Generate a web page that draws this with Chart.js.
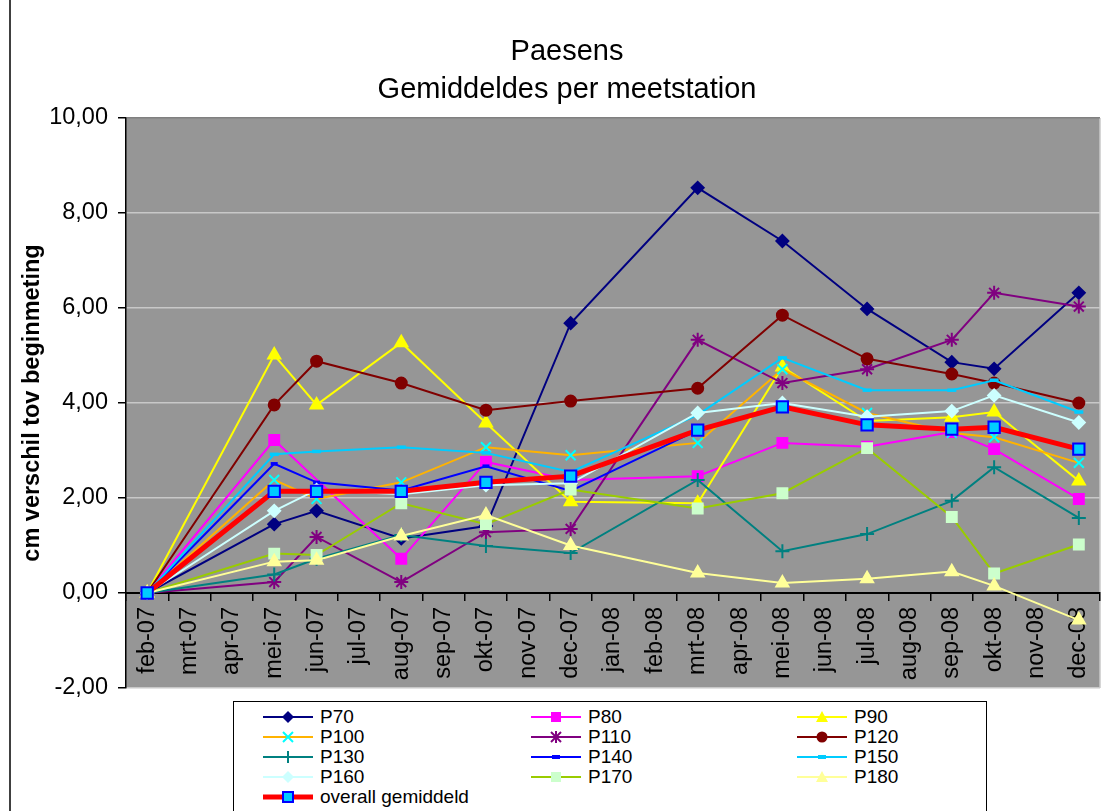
<!DOCTYPE html>
<html>
<head>
<meta charset="utf-8">
<script src="https://cdn.jsdelivr.net/npm/chart.js@4.4.0/dist/chart.umd.min.js"></script>
<style>
  body { margin: 0; background: #fff; font-family: "Liberation Sans", Arial, sans-serif; }
  #wrap { position: relative; width: 1113px; height: 811px; overflow: hidden; }
  #frame { position: absolute; left: 9px; top: 0; width: 2px; height: 811px; background: #404040; }
  #title { position: absolute; left: 367px; top: 31px; width: 400px; text-align: center;
           font-size: 29px; line-height: 38px; color: #000; }
  #legend { position: absolute; left: 233px; top: 701px; width: 752px; height: 130px;
            border: 1.5px solid #000; background: #fff; }
  .item { position: absolute; height: 20px; font-size: 19px; line-height: 20px; color: #000; white-space: nowrap; }
  .item svg { position: absolute; left: 0; top: 0; }
  .item span { position: absolute; left: 57px; top: 0; }
</style>
</head>
<body>
<div id="wrap">
  <canvas id="chart" width="1113" height="811"></canvas>
  <div id="frame"></div>
  <div id="title">Paesens<br>Gemiddeldes per meetstation</div>
  <div id="legend"></div>
</div>
<script>
const months = ['feb-07', 'mrt-07', 'apr-07', 'mei-07', 'jun-07', 'jul-07', 'aug-07', 'sep-07', 'okt-07', 'nov-07', 'dec-07',
                'jan-08', 'feb-08', 'mrt-08', 'apr-08', 'mei-08', 'jun-08', 'jul-08', 'aug-08', 'sep-08', 'okt-08', 'nov-08', 'dec-08'];
const meetDates = ['feb-07', 'mei-07', 'jun-07', 'aug-07', 'okt-07', 'dec-07', 'mrt-08', 'mei-08', 'jul-08', 'sep-08', 'okt-08', 'dec-08'];

const p70 = [0, 1.45, 1.73, 1.15, 1.41, 5.68, 8.53, 7.41, 5.98, 4.86, 4.72, 6.32];
const p80 = [0, 3.22, null, 0.72, 2.76, 2.38, 2.46, 3.16, 3.08, 3.39, 3.03, 1.98];
const p90 = [0, 5.01, 3.96, 5.27, 3.58, 1.92, 1.89, 4.76, 3.62, 3.70, 3.81, 2.36];
const p100 = [0, 2.38, 1.98, 2.33, 3.07, 2.90, 3.16, 4.71, 3.79, 3.37, 3.28, 2.74];
const p110 = [0, 0.23, 1.18, 0.23, 1.28, 1.35, 5.33, 4.42, 4.71, 5.33, 6.32, 6.03];
const p120 = [0, 3.96, 4.88, 4.42, 3.85, 4.04, 4.31, 5.85, 4.93, 4.61, 4.42, 4.00];
const p130 = [0, 0.39, 0.72, 1.22, 0.99, 0.84, 2.38, 0.88, 1.24, 1.94, 2.65, 1.58];
const p140 = [0, 2.72, 2.33, 2.16, 2.67, 2.15, 3.43, 3.92, 3.54, 3.45, 3.49, 3.03];
const p150 = [0, 2.92, 2.98, 3.07, 2.95, 2.55, 3.75, 4.95, 4.27, 4.27, 4.48, 3.81];
const p160 = [0, 1.73, 2.17, 2.08, 2.27, 2.31, 3.79, 4.00, 3.71, 3.83, 4.16, 3.59];
const p170 = [0, 0.83, 0.80, 1.89, 1.45, 2.18, 1.78, 2.10, 3.05, 1.60, 0.41, 1.02];
const p180 = [0, 0.66, 0.69, 1.20, 1.64, 1.00, 0.42, 0.21, 0.30, 0.45, 0.15, -0.57];
const overall = [0, 2.14, 2.14, 2.14, 2.33, 2.46, 3.43, 3.92, 3.54, 3.45, 3.49, 3.03];

const yTicks = [-2, 0, 2, 4, 6, 8, 10];

const FONT = '"Liberation Sans", Arial, sans-serif';

// name, values, line colour, marker, marker fill, marker border, radius, line width
const series = [
  ['P70', p70, '#000080', 'rectRot', '#000080', '#000080', 6, 2],
  ['P80', p80, '#FF00FF', 'rect', '#FF00FF', '#FF00FF', 7, 2],
  ['P90', p90, '#FFFF00', 'triangle', '#FFFF00', '#FFFF00', 7, 2],
  ['P100', p100, '#FFB300', 'crossRot', '#00FFFF', '#00FFFF', 7, 2],
  ['P110', p110, '#800080', 'star', '#800080', '#800080', 7, 2],
  ['P120', p120, '#800000', 'circle', '#800000', '#800000', 5.5, 2],
  ['P130', p130, '#008080', 'cross', '#008080', '#008080', 7, 2],
  ['P140', p140, '#0000FF', 'line', '#0000FF', '#0000FF', 3.5, 2],
  ['P150', p150, '#00CCFF', 'line', '#00CCFF', '#00CCFF', 4.5, 2],
  ['P160', p160, '#CCFFFF', 'rectRot', '#CCFFFF', '#CCFFFF', 6, 2],
  ['P170', p170, '#99CC00', 'rect', '#CCFFCC', '#CCFFCC', 7, 2],
  ['P180', p180, '#FFFF99', 'triangle', '#FFFF99', '#FFFF99', 7, 2],
  ['overall gemiddeld', overall, '#FF0000', 'rect', '#00CCFF', '#0000FF', 8, 5]
];

const datasets = series.map((s, i) => ({
  label: s[0],
  data: meetDates.map((d, j) => ({x: d, y: s[1][j]})),
  borderColor: s[2],
  borderWidth: s[7],
  pointStyle: s[3],
  pointBackgroundColor: s[4],
  pointBorderColor: s[5],
  pointBorderWidth: s[3] === 'line' ? 3.5 : (s[0] === 'overall gemiddeld' ? 2 : 2),
  pointRadius: s[6],
  pointHoverRadius: s[6],
  spanGaps: true,
  tension: 0,
  order: series.length - i
}));

const plotBg = {
  id: 'plotBg',
  beforeDraw(chart) {
    const a = chart.chartArea, ctx = chart.ctx;
    ctx.save();
    ctx.fillStyle = '#969696';
    ctx.fillRect(a.left, a.top, a.right - a.left, a.bottom - a.top);
    ctx.strokeStyle = '#c8c8c8';
    ctx.lineWidth = 1.5;
    ctx.beginPath();
    ctx.moveTo(a.right, a.top);
    ctx.lineTo(a.right, a.bottom);
    ctx.stroke();
    ctx.restore();
  }
};

new Chart(document.getElementById('chart'), {
  type: 'line',
  data: { labels: months, datasets },
  options: {
    responsive: false,
    animation: false,
    layout: { padding: { left: 0, top: 118, right: 13, bottom: 123 } },
    plugins: { legend: { display: false }, title: { display: false }, tooltip: { enabled: false } },
    scales: {
      x: {
        type: 'category',
        offset: true,
        position: { y: 0 },
        grid: { offset: true, drawOnChartArea: false, drawTicks: true, tickLength: 7, color: '#000', lineWidth: 1.5 },
        border: { display: true, color: '#000', width: 2 },
        ticks: { minRotation: 90, maxRotation: 90, autoSkip: false, padding: 7, color: '#000',
                 font: { family: FONT, size: 23.5 } },
        afterFit: s => { s.height = 0; s.paddingLeft = 0; s.paddingRight = 0; }
      },
      y: {
        min: -2,
        max: 10,
        afterBuildTicks: s => { s.ticks = yTicks.map(v => ({ value: v })); },
        grid: {
          color: c => (c.tick && c.tick.value === 10 ? '#808080' : '#c8c8c8'),
          tickColor: '#000',
          lineWidth: 1.5,
          tickLength: 8
        },
        border: { display: true, color: '#000', width: 1.5 },
        ticks: { padding: 10, color: '#000', font: { family: FONT, size: 23.5 },
                 callback: v => v.toFixed(2).replace('.', ',') },
        title: { display: true, text: 'cm verschil tov beginmeting', color: '#000',
                 font: { family: FONT, size: 23.5, weight: 'bold' }, padding: { top: 18, bottom: 0 } },
        afterFit: s => { s.width = 126; s.paddingTop = 0; s.paddingBottom = 0; }
      }
    }
  },
  plugins: [plotBg]
});

// legend, three columns, row by row
function markerSvg(s) {
  const [name, , line, style, fill, stroke, , lw] = s;
  let m = '';
  const c = 25, y = 10;
  if (style === 'rectRot') m = `<polygon points="${c - 6},${y} ${c},${y - 6} ${c + 6},${y} ${c},${y + 6}" fill="${fill}"/>`;
  else if (style === 'rect' && name === 'overall gemiddeld') m = `<rect x="${c - 5}" y="${y - 5}" width="10" height="10" fill="${fill}" stroke="${stroke}" stroke-width="2"/>`;
  else if (style === 'rect') m = `<rect x="${c - 5}" y="${y - 5}" width="10" height="10" fill="${fill}"/>`;
  else if (style === 'triangle') m = `<polygon points="${c - 6},${y + 5} ${c},${y - 6} ${c + 6},${y + 5}" fill="${fill}"/>`;
  else if (style === 'crossRot') m = `<path d="M${c - 5} ${y - 5}L${c + 5} ${y + 5}M${c + 5} ${y - 5}L${c - 5} ${y + 5}" stroke="${stroke}" stroke-width="2"/>`;
  else if (style === 'star') m = `<path d="M${c - 5} ${y - 5}L${c + 5} ${y + 5}M${c + 5} ${y - 5}L${c - 5} ${y + 5}M${c} ${y - 6}L${c} ${y + 6}" stroke="${stroke}" stroke-width="2"/>`;
  else if (style === 'circle') m = `<circle cx="${c}" cy="${y}" r="5.5" fill="${fill}"/>`;
  else if (style === 'cross') m = `<path d="M${c - 6} ${y}L${c + 6} ${y}M${c} ${y - 6}L${c} ${y + 6}" stroke="${stroke}" stroke-width="2"/>`;
  else if (style === 'line') m = `<rect x="${c - 4}" y="${y - 2}" width="8" height="4" fill="${fill}"/>`;
  return `<svg width="50" height="20"><line x1="0" y1="${y}" x2="50" y2="${y}" stroke="${line}" stroke-width="${lw}"/>${m}</svg>`;
}

const legend = document.getElementById('legend');
const colX = [262, 530, 796];
series.forEach((s, i) => {
  const div = document.createElement('div');
  div.className = 'item';
  div.style.left = (colX[i % 3] - 233) + 'px';
  div.style.top = (717 + 20.1 * Math.floor(i / 3) - 10 - 702) + 'px';
  div.innerHTML = markerSvg(s) + `<span>${s[0]}</span>`;
  legend.appendChild(div);
});
</script>
</body>
</html>
